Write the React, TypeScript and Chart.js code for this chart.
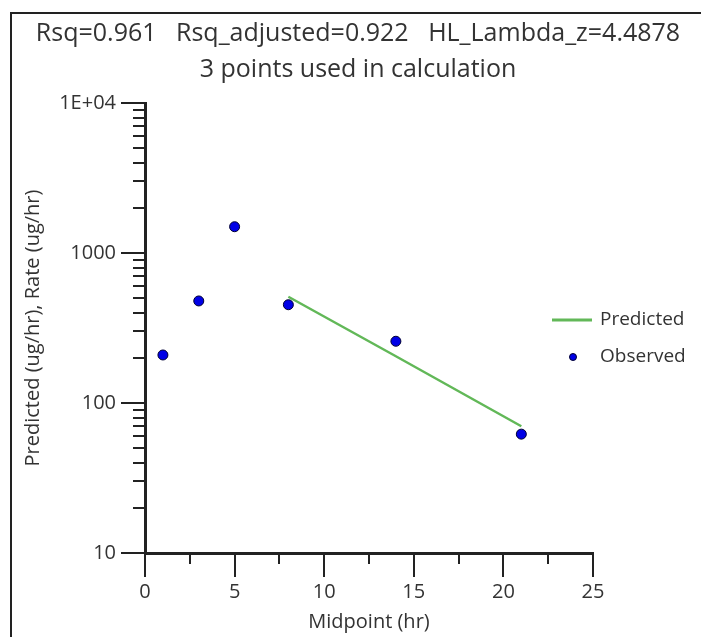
import React, { useEffect, useRef } from "react";
import { Chart, registerables } from "chart.js";

Chart.register(...registerables);

const titleLines = ["Rsq=0.961   Rsq_adjusted=0.922   HL_Lambda_z=4.4878", "3 points used in calculation"];
const xAxisTitle = "Midpoint (hr)";
const yAxisTitle = "Predicted (ug/hr), Rate (ug/hr)";

const observedX = [1, 3, 5, 8, 14, 21];
const observedY = [209, 479, 1497, 452, 258, 62];

const predictedX = [8, 14, 21];
const predictedY = [511, 205, 70];

const yTickValues = [10, 100, 1000, 10000];
const yTickLabels = ["10", "100", "1000", "1E+04"];
const xTickValues = [0, 5, 10, 15, 20, 25];
const xMinorTicks = [2.5, 7.5, 12.5, 17.5, 22.5];
const yMinorMultipliers = [2, 3, 4, 5, 6, 7, 8, 9];

const FONT = "'Open Sans', sans-serif";
const TEXT = "#333333";
const AXIS = "#222222";
const GREEN = "rgb(98,184,88)";
const BLUE = "#0000e6";

const extrasPlugin = {
  id: "extras",
  beforeDraw(chart: any) {
    const ctx = chart.ctx;
    ctx.save();
    ctx.fillStyle = "#ffffff";
    ctx.fillRect(0, 0, chart.width, chart.height);
    ctx.strokeStyle = AXIS;
    ctx.lineWidth = 2;
    ctx.beginPath();
    ctx.moveTo(11, chart.height);
    ctx.lineTo(11, 13);
    ctx.lineTo(chart.width, 13);
    ctx.stroke();
    ctx.restore();
  },
  afterDraw(chart: any) {
    const ctx = chart.ctx;
    const ys = chart.scales.y;
    const xs = chart.scales.x;
    const area = chart.chartArea;
    ctx.save();
    ctx.strokeStyle = AXIS;
    ctx.lineWidth = 2;
    ctx.beginPath();
    for (let d = 0; d < yTickValues.length - 1; d++) {
      for (const m of yMinorMultipliers) {
        const py = Math.round(ys.getPixelForValue(yTickValues[d] * m));
        ctx.moveTo(area.left - 12, py);
        ctx.lineTo(area.left, py);
      }
    }
    for (const v of xMinorTicks) {
      const px = Math.round(xs.getPixelForValue(v));
      ctx.moveTo(px, area.bottom);
      ctx.lineTo(px, area.bottom + 11);
    }
    ctx.stroke();

    // legend
    const lx = area.right - 41;
    const y1 = area.top + 217;
    const y2 = area.top + 254;
    ctx.strokeStyle = GREEN;
    ctx.lineWidth = 3;
    ctx.beginPath();
    ctx.moveTo(lx, y1);
    ctx.lineTo(lx + 40, y1);
    ctx.stroke();
    ctx.fillStyle = BLUE;
    ctx.strokeStyle = "#000033";
    ctx.lineWidth = 1;
    ctx.beginPath();
    ctx.arc(lx + 21, y2, 3.5, 0, Math.PI * 2);
    ctx.fill();
    ctx.stroke();
    ctx.fillStyle = TEXT;
    ctx.font = `19px ${FONT}`;
    ctx.textBaseline = "middle";
    ctx.textAlign = "left";
    ctx.fillText(chart.data.datasets[1].label, lx + 48, y1);
    ctx.fillText(chart.data.datasets[0].label, lx + 48, y2);
    ctx.restore();
  },
};

export default function App() {
  const ref = useRef<HTMLCanvasElement>(null);
  useEffect(() => {
    if (!ref.current) return;
    const chart = new Chart(ref.current, {
      type: "scatter",
      data: {
        datasets: [
          {
            label: "Observed",
            data: observedX.map((x, i) => ({ x, y: observedY[i] })),
            backgroundColor: BLUE,
            borderColor: "#000033",
            borderWidth: 1,
            pointRadius: 5,
            showLine: false,
            order: 1,
          },
          {
            label: "Predicted",
            data: predictedX.map((x, i) => ({ x, y: predictedY[i] })),
            borderColor: GREEN,
            backgroundColor: GREEN,
            borderWidth: 2.5,
            pointRadius: 0,
            showLine: true,
            order: 2,
          },
        ],
      },
      options: {
        animation: false,
        responsive: false,
        events: [],
        layout: { padding: { left: 15, top: 12, right: 0, bottom: 0 } },
        plugins: {
          legend: { display: false },
          tooltip: { enabled: false },
          title: {
            display: true,
            text: titleLines,
            color: TEXT,
            font: { family: FONT, size: 25, weight: "normal", lineHeight: "36px" },
            padding: { top: 4, bottom: 15 },
          },
        },
        scales: {
          x: {
            type: "linear",
            min: 0,
            max: 25,
            afterFit: (s: any) => {
              s.height = 84;
            },
            afterBuildTicks: (s: any) => {
              s.ticks = xTickValues.map((v) => ({ value: v }));
            },
            ticks: { color: TEXT, font: { family: FONT, size: 20 }, padding: 3, maxRotation: 0 },
            grid: { drawOnChartArea: false, drawTicks: true, tickLength: 24, color: AXIS, lineWidth: 2 },
            border: { display: true, color: AXIS, width: 3 },
            title: { display: true, text: xAxisTitle, color: TEXT, font: { family: FONT, size: 20 }, padding: { top: 0, bottom: 3 } },
          },
          y: {
            type: "logarithmic",
            min: 10,
            max: 10000,
            afterFit: (s: any) => {
              s.width = 130;
            },
            afterBuildTicks: (s: any) => {
              s.ticks = yTickValues.map((v) => ({ value: v }));
            },
            ticks: {
              color: TEXT,
              font: { family: FONT, size: 20 },
              padding: 5,
              callback: (v: any) => {
                const i = yTickValues.indexOf(Number(v));
                return i >= 0 ? yTickLabels[i] : "";
              },
            },
            grid: { drawOnChartArea: false, drawTicks: true, tickLength: 24, color: AXIS, lineWidth: 2 },
            border: { display: true, color: AXIS, width: 3 },
            title: { display: true, text: yAxisTitle, color: TEXT, font: { family: FONT, size: 20 }, padding: { top: 6, bottom: 0 } },
          },
          spacer: {
            type: "linear",
            position: "right",
            display: true,
            afterFit: (s: any) => {
              s.width = 108;
            },
            ticks: { display: false },
            grid: { display: false, drawTicks: false },
            border: { display: false },
            title: { display: false },
          },
        },
      },
      plugins: [extrasPlugin],
    });
    return () => chart.destroy();
  }, []);
  return (
    <div style={{ position: "fixed", left: 0, top: 0, width: 701, height: 637, background: "#fff" }}>
      <canvas ref={ref} width={701} height={637} />
    </div>
  );
}
